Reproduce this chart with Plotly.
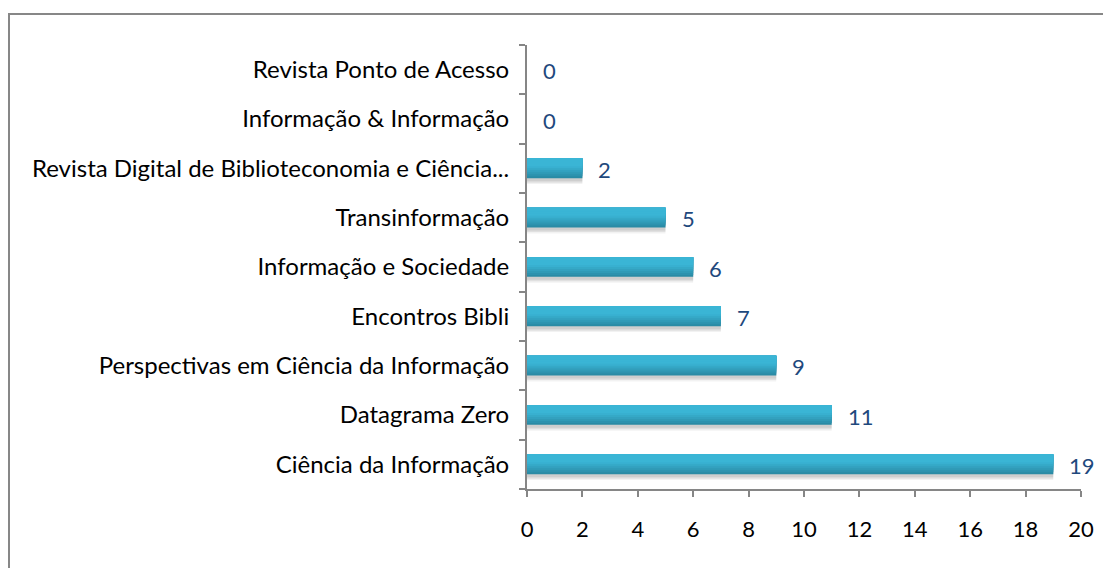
import plotly.graph_objects as go

categories = [
    "Ciência da Informação",
    "Datagrama Zero",
    "Perspectivas em Ciência da Informação",
    "Encontros Bibli",
    "Informação e Sociedade",
    "Transinformação",
    "Revista Digital de Biblioteconomia e Ciência...",
    "Informação & Informação",
    "Revista Ponto de Acesso",
]
values = [19, 11, 9, 7, 6, 5, 2, 0, 0]
x_ticks = [0, 2, 4, 6, 8, 10, 12, 14, 16, 18, 20]

W, H = 1111, 568
# page body offset of 8px is compensated
L, R, T, B = 519, 38, 37, 87
pw, ph = W - L - R, H - T - B
FONT = "Lato, Noto Sans, sans-serif"

fig = go.Figure()
# soft shadow
for off, a in [(-0.32, 0.05), (-0.29, 0.07), (-0.26, 0.08)]:
    fig.add_trace(go.Bar(
        y=categories, x=values, orientation="h",
        marker=dict(color=f"rgba(0,0,0,{a})", line=dict(width=0)),
        width=0.42, offset=off, hoverinfo="skip", showlegend=False,
    ))

# bar body with simulated vertical gradient (bottom dark -> top light)
dark = (0x2A, 0x8B, 0xA5)
light = (0x3A, 0xB5, 0xD5)
n = 10
bottom, top = -0.20, 0.20
for i in range(n):
    t = min(1.0, (i / (n - 1)) * 1.6)
    col = tuple(round(d + (l - d) * t) for d, l in zip(dark, light))
    start = bottom + (top - bottom) * i / n
    fig.add_trace(go.Bar(
        y=categories, x=values, orientation="h",
        marker=dict(color="rgb(%d,%d,%d)" % col, line=dict(width=0)),
        width=top - start, offset=start,
        hoverinfo="skip" if i else None, showlegend=False,
    ))

annotations = [
    dict(x=v, y=c, xref="x", yref="y", text=str(v), showarrow=False,
         xanchor="left", yanchor="middle", xshift=14, yshift=-1,
         font=dict(color="#1F497D", size=22, family=FONT))
    for c, v in zip(categories, values)
]

fig.update_layout(
    width=W, height=H,
    margin=dict(l=L, r=R, t=T, b=B),
    paper_bgcolor="white", plot_bgcolor="white",
    font=dict(family=FONT, size=24, color="#000000"),
    barmode="overlay",
    annotations=annotations,
    xaxis=dict(range=[0, 20], tickvals=x_ticks, showgrid=False, zeroline=False,
               showline=True, linecolor="#868686", linewidth=2,
               ticks="outside", ticklen=6, tickwidth=2, tickcolor="#868686",
               tickfont=dict(size=22), ticklabelstandoff=14),
    yaxis=dict(categoryorder="array", categoryarray=categories,
               showgrid=False, zeroline=False, showline=True, linecolor="#868686",
               linewidth=2, ticks="outside", ticklen=6, tickwidth=2, tickcolor="#868686",
               tickson="boundaries", tickfont=dict(size=24), ticklabelstandoff=11),
    shapes=[dict(type="rect", xref="paper", yref="paper",
                 x0=(1 - L) / pw, x1=(W + 20 - L) / pw,
                 y0=-(H + 20 - (T + ph)) / ph, y1=(T + ph - 6) / ph,
                 line=dict(color="#878787", width=2), fillcolor="rgba(0,0,0,0)",
                 layer="below")],
)

fig.write_html("out.html")
